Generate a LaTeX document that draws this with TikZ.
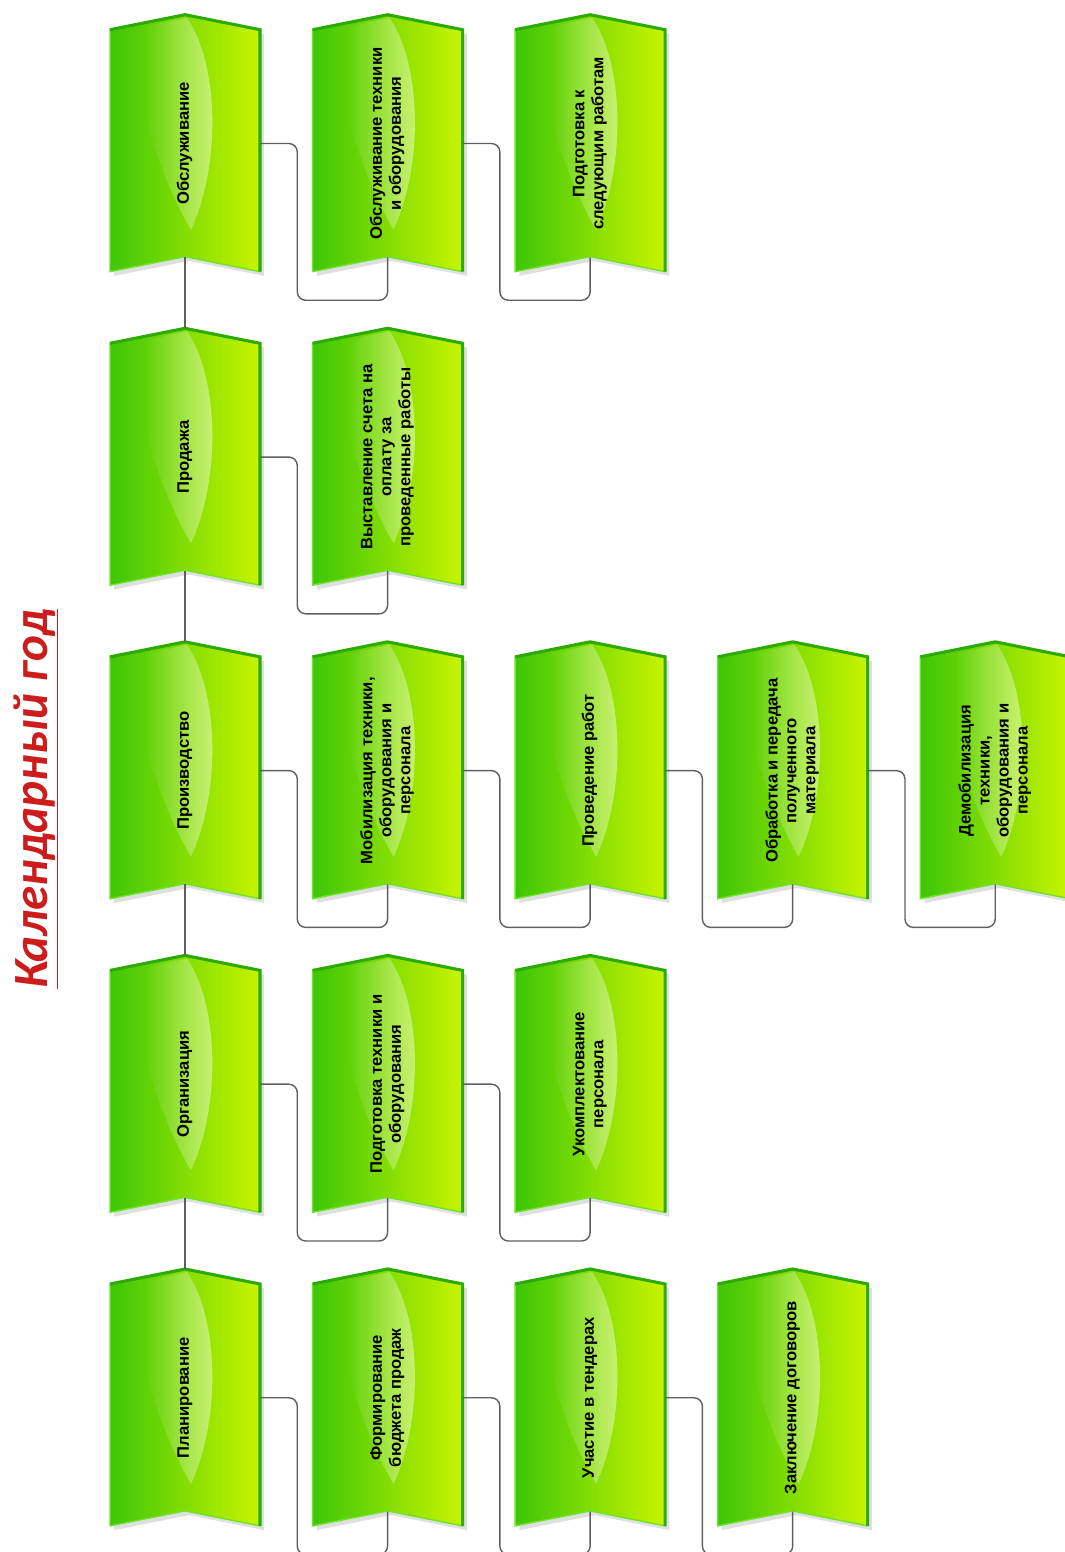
\documentclass[tikz,border=0pt]{standalone}
\usepackage{fontspec}
\setmainfont{Liberation Sans}
\newfontfamily\titlefont{Carlito}
\usepackage{graphicx}
\usetikzlibrary{positioning,backgrounds,fadings,shadows}
\definecolor{bnleft}{RGB}{62,198,8}
\definecolor{bnright}{RGB}{200,244,0}
\definecolor{bnedge}{RGB}{44,170,6}
\definecolor{bnlight}{RGB}{110,228,40}
\definecolor{linkgray}{RGB}{95,95,95}
\definecolor{titlered}{RGB}{205,28,28}
\newcommand{\vlabel}[1]{\rotatebox{90}{\begin{tabular}{@{}c@{}}#1\end{tabular}}}
\tikzset{
  flag/.style    ={rectangle, minimum width=3.75cm, minimum height=6.425cm, inner sep=0pt,
                   align=center, font=\fontsize{11.8}{13.5}\selectfont\bfseries},
  flagfill/.style={left color=bnleft, right color=bnright, draw=bnlight, line width=1pt,
                   drop shadow={opacity=0.25, shadow xshift=3pt, shadow yshift=-3pt}},
  flagedge/.style={draw=bnedge, line width=2.2pt},
  gloss/.style   ={fill=white, fill opacity=0.5, path fading=west},
  link/.style    ={draw=linkgray, line width=1pt, rounded corners=6pt},
  titletext/.style={rotate=90, text=titlered, font=\titlefont\bfseries\itshape\fontsize{35}{40}\selectfont},
}

\begin{document}
\begin{tikzpicture}
\useasboundingbox (0,0) rectangle (26.6,-38.8);
\node[titletext] (title) at (0.9,-19.98) {\underline{Календарный год}};
% top row
\node[flag] (serv) at (4.625,-3.5875) {\vlabel{Обслуживание}};
\node[flag, right=1.3cm of serv] (servtech) {\vlabel{Обслуживание техники\\ и оборудования}};
\node[flag, right=1.3cm of servtech] (nextprep) {\vlabel{Подготовка к\\ следующим работам}};
% sales
\node[flag, below=1.4cm of serv] (sale) {\vlabel{Продажа}};
\node[flag, right=1.3cm of sale] (invoice) {\vlabel{Выставление счета на\\ оплату за\\ проведенные работы}};
% production
\node[flag, below=1.4cm of sale] (prod) {\vlabel{Производство}};
\node[flag, right=1.3cm of prod] (mobil) {\vlabel{Мобилизация техники,\\ оборудования и\\ персонала}};
\node[flag, right=1.3cm of mobil] (works) {\vlabel{Проведение работ}};
\node[flag, right=1.3cm of works] (procdata) {\vlabel{Обработка и передача\\ полученного\\ материала}};
\node[flag, right=1.3cm of procdata] (demobil) {\vlabel{Демобилизация\\ техники,\\ оборудования и\\ персонала}};
% organisation
\node[flag, below=1.4cm of prod] (org) {\vlabel{Организация}};
\node[flag, right=1.3cm of org] (equipprep) {\vlabel{Подготовка техники и\\ оборудования}};
\node[flag, right=1.3cm of equipprep] (staff) {\vlabel{Укомплектование\\ персонала}};
% planning
\node[flag, below=1.4cm of org] (plan) {\vlabel{Планирование}};
\node[flag, right=1.3cm of plan] (budget) {\vlabel{Формирование\\ бюджета продаж}};
\node[flag, right=1.3cm of budget] (tender) {\vlabel{Участие в тендерах}};
\node[flag, right=1.3cm of tender] (contract) {\vlabel{Заключение договоров}};

\begin{scope}[on background layer]
\foreach \b in {serv,servtech,nextprep,sale,invoice,prod,mobil,works,procdata,demobil,
                org,equipprep,staff,plan,budget,tender,contract}{
  \begin{scope}[shift={(\b.north)}, x=0.025cm, y=-0.025cm]
    \path[flagfill] (-75,15) -- (0,0) -- (75,15) -- (75,257) -- (0,242) -- (-75,257) -- cycle;
    \path[gloss] (-40,12) -- (2,3) .. controls (34,50) and (36,150) .. (6,215)
                 .. controls (-12,185) and (-30,140) .. (-40,100) -- cycle;
    \draw[flagedge] (-75,15) -- (0,0) -- (75,15) -- (75,257);
  \end{scope}
}
\end{scope}

\foreach \a/\b in {serv/servtech, servtech/nextprep, sale/invoice, prod/mobil, mobil/works,
                   works/procdata, procdata/demobil, org/equipprep, equipprep/staff,
                   plan/budget, budget/tender, tender/contract}
  \draw[link] (\a.east) -- ++(0.925,0) |- ([yshift=-0.7cm]\b.south) -- ([yshift=0.375cm]\b.south);
\foreach \a/\b in {serv/sale, sale/prod, prod/org, org/plan}
  \draw[link] ([yshift=0.375cm]\a.south) -- (\b.north);
\end{tikzpicture}
\end{document}
